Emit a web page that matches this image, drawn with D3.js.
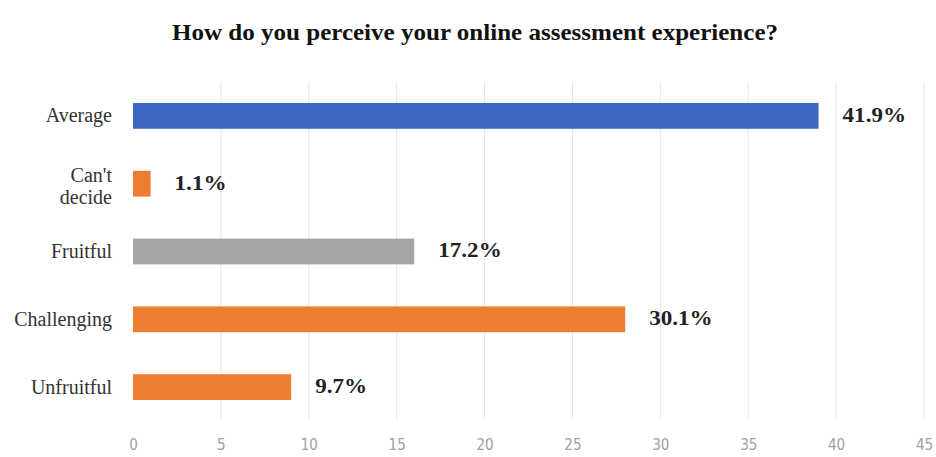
<!DOCTYPE html>
<html>
<head>
<meta charset="utf-8">
<script src="https://cdn.jsdelivr.net/npm/d3@7"></script>
<style>
  html, body { margin: 0; padding: 0; background: #fff; }
  svg { display: block; }
</style>
</head>
<body>
<svg id="chart" width="936" height="457"></svg>
<script>
// ---- data ----
const titleText = "How do you perceive your online assessment experience?";
const categories = ["Average", "Can't decide", "Fruitful", "Challenging", "Unfruitful"];
const counts = [39, 1, 16, 28, 9];
const percentLabels = ["41.9%", "1.1%", "17.2%", "30.1%", "9.7%"];
const tickValues = [0, 5, 10, 15, 20, 25, 30, 35, 40, 45];
const barColors = ["#3d66c3", "#ed7d31", "#a5a5a5", "#ed7d31", "#ed7d31"];

// ---- layout ----
const svg = d3.select("#chart");
const plot = { left: 133, right: 924, top: 82, bottom: 421 };
const serif = "'Liberation Serif', 'Times New Roman', serif";

const x = d3.scaleLinear().domain([0, 45]).range([plot.left, plot.right]);
const y = d3.scaleBand().domain(categories).range([plot.top, plot.bottom]).paddingInner(0.62).paddingOuter(0.31);
const color = d3.scaleOrdinal().domain(categories).range(barColors);

// title
svg.append("text")
  .attr("x", 475).attr("y", 39.5)
  .attr("text-anchor", "middle")
  .style("font-family", serif)
  .style("font-weight", "bold")
  .style("font-size", "24px")
  .attr("fill", "#111")
  .attr("textLength", 606)
  .attr("lengthAdjust", "spacingAndGlyphs")
  .text(titleText);

// gridlines
svg.append("g").selectAll("line")
  .data(tickValues.filter(d => d > 0))
  .join("line")
  .attr("x1", d => x(d)).attr("x2", d => x(d))
  .attr("y1", plot.top).attr("y2", plot.bottom - 2)
  .attr("stroke", "#e6e6e6").attr("stroke-width", 1);

// x axis tick labels
const xAxis = d3.axisBottom(x).tickValues(tickValues).tickSize(0).tickPadding(0);
const gx = svg.append("g").attr("transform", `translate(0, ${plot.bottom + 14})`).call(xAxis);
gx.select(".domain").remove();
gx.selectAll("text")
  .attr("dy", "1.0em")
  .style("font-family", "'DejaVu Sans Condensed', 'Liberation Sans Narrow', sans-serif")
  .style("font-size", "15px")
  .attr("fill", "#a0a0a0");

// bars
svg.append("g").selectAll("rect")
  .data(categories)
  .join("rect")
  .attr("x", x(0))
  .attr("y", d => y(d))
  .attr("width", (d, i) => x(counts[i]) - x(0))
  .attr("height", y.bandwidth())
  .attr("fill", d => color(d));

// category labels
const yAxis = d3.axisLeft(y).tickSize(0).tickPadding(21);
const gy = svg.append("g").attr("transform", `translate(${plot.left}, 0)`).call(yAxis);
gy.select(".domain").remove();
gy.selectAll("text")
  .style("font-family", serif)
  .style("font-size", "20px")
  .attr("fill", "#333")
  .each(function(d) {
    const t = d3.select(this);
    const words = d.split(" ");
    if (words.length > 1) {
      t.text(null).attr("dy", null);
      t.append("tspan").attr("x", -21).attr("y", -1.5).text(words[0]);
      t.append("tspan").attr("x", -21).attr("y", 20).text(words.slice(1).join(" "));
    }
  });

// value labels
svg.append("g").selectAll("text")
  .data(categories)
  .join("text")
  .attr("x", (d, i) => x(counts[i]) + 24)
  .attr("y", d => y(d) + y.bandwidth() / 2 + 1)
  .attr("dominant-baseline", "middle")
  .style("font-family", serif)
  .style("font-weight", "bold")
  .style("font-size", "21px")
  .attr("fill", "#222")
  .text((d, i) => percentLabels[i])
  .each(function() {
    const len = this.getComputedTextLength();
    d3.select(this).attr("textLength", len * 1.1).attr("lengthAdjust", "spacingAndGlyphs");
  });
</script>
</body>
</html>
